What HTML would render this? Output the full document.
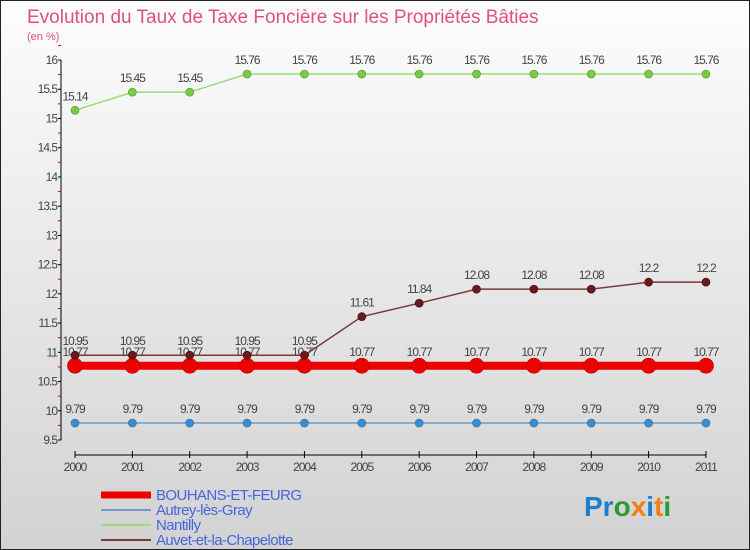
<!DOCTYPE html>
<html><head><meta charset="utf-8"><style>
body{margin:0}
#c{position:relative;width:748px;height:548px;border:1px solid #222;background:linear-gradient(#fdfdfd,#d2d2d2);overflow:hidden;font-family:"Liberation Sans",sans-serif}
</style></head><body>
<div id="c">
<svg width="748" height="548" xmlns="http://www.w3.org/2000/svg" id="svg">
<text x="26" y="22" font-size="19" fill="#e0507a" font-family="Liberation Sans">Evolution du Taux de Taxe Foncière sur les Propriétés Bâties</text>
<text x="26" y="39" font-size="11" fill="#e0507a" font-family="Liberation Sans">(en %)</text>
<g id="axes"></g><g id="series"></g><g id="legend"></g>
<text x="583" y="515" font-size="28" font-weight="bold" font-family="Liberation Sans"><tspan fill="#1a7fd0">Pr</tspan><tspan fill="#2a9a3a">o</tspan><tspan fill="#f08010">x</tspan><tspan fill="#1a7fd0">i</tspan><tspan fill="#f08010">t</tspan><tspan fill="#2a9a3a">i</tspan></text>
</svg></div>
<script>
const years=[2000,2001,2002,2003,2004,2005,2006,2007,2008,2009,2010,2011];
const bouhans=[10.77,10.77,10.77,10.77,10.77,10.77,10.77,10.77,10.77,10.77,10.77,10.77];
const autrey=[9.79,9.79,9.79,9.79,9.79,9.79,9.79,9.79,9.79,9.79,9.79,9.79];
const nantilly=[15.14,15.45,15.45,15.76,15.76,15.76,15.76,15.76,15.76,15.76,15.76,15.76];
const auvet=[10.95,10.95,10.95,10.95,10.95,11.61,11.84,12.08,12.08,12.08,12.2,12.2];
const yTicks=[9.5,10,10.5,11,11.5,12,12.5,13,13.5,14,14.5,15,15.5,16];
const NS="http://www.w3.org/2000/svg";
const X=i=>74+i*57.36, Y=v=>439-(v-9.5)*58.46;
function mk(t,a,p){const e=document.createElementNS(NS,t);for(const k in a)e.setAttribute(k,a[k]);p.appendChild(e);return e;}
const ax=document.getElementById('axes');
let l=mk('line',{x1:60,y1:Y(16),x2:60,y2:Y(9.5),stroke:'#000'},ax);


yTicks.forEach(v=>{mk('line',{x1:57,y1:Y(v),x2:60,y2:Y(v),stroke:'#000'},ax);
 mk('line',{x1:57,y1:Y(v+0.25),x2:60,y2:Y(v+0.25),stroke:'#d00'},ax);
 const t=mk('text',{x:56,y:Y(v)+4,'text-anchor':'end','font-size':12,fill:'#444','letter-spacing':'-1'},ax);t.textContent=v;
 
 });
l=mk('line',{x1:X(0),y1:454,x2:X(11),y2:454,stroke:'#000'},ax);


years.forEach((y,i)=>{mk('line',{x1:X(i),y1:450,x2:X(i),y2:457,stroke:'#000'},ax);
 const t=mk('text',{x:X(i),y:470,'text-anchor':'middle','font-size':12,fill:'#444','letter-spacing':'-1'},ax);t.textContent=y;
 
 });
const sg=document.getElementById('series');
function series(name,d,col,w,r,lc,dot){const g=mk('g',{},sg);
 
 
 mk('polyline',{points:d.map((v,i)=>X(i)+','+Y(v)).join(' '),fill:'none',stroke:col,'stroke-width':w},g);
 d.forEach((v,i)=>{const c=mk('circle',{cx:X(i),cy:Y(v),r:r,fill:dot,stroke:lc,'stroke-width':0.7},g);
  
  
  const t=mk('text',{x:X(i),y:Y(v)-10,'text-anchor':'middle','font-size':12,fill:'#444','letter-spacing':'-1'},g);t.textContent=String(v);
  
  });}
series('autrey',autrey,'#6a9ccc',1.5,4,'#3a6e9e','#3a8ed0');
series('nantilly',nantilly,'#99dd77',1.5,4,'#5a9a3a','#77cc44');
series('bouhans',bouhans,'#ee0000',8,7.5,'#bb0000','#ee0000');
series('auvet',auvet,'#7a3a3a',1.5,4,'#4a1010','#6a1a1a');
const lg=document.getElementById('legend');
[['BOUHANS-ET-FEURG','#ee0000',7],['Autrey-lès-Gray','#6a9ccc',2],['Nantilly','#99dd77',2],['Auvet-et-la-Chapelotte','#7a3a3a',2]].forEach((e,i)=>{
 const y=494+i*15;const g=mk('g',{},lg);
 
 
 mk('line',{x1:100,y1:y,x2:150,y2:y,stroke:e[1],'stroke-width':e[2]},g);
 const t=mk('text',{x:155,y:y+5,'font-size':15,fill:'#4466dd','letter-spacing':'-0.6'},g);t.textContent=e[0];});
</script>
</body></html>
